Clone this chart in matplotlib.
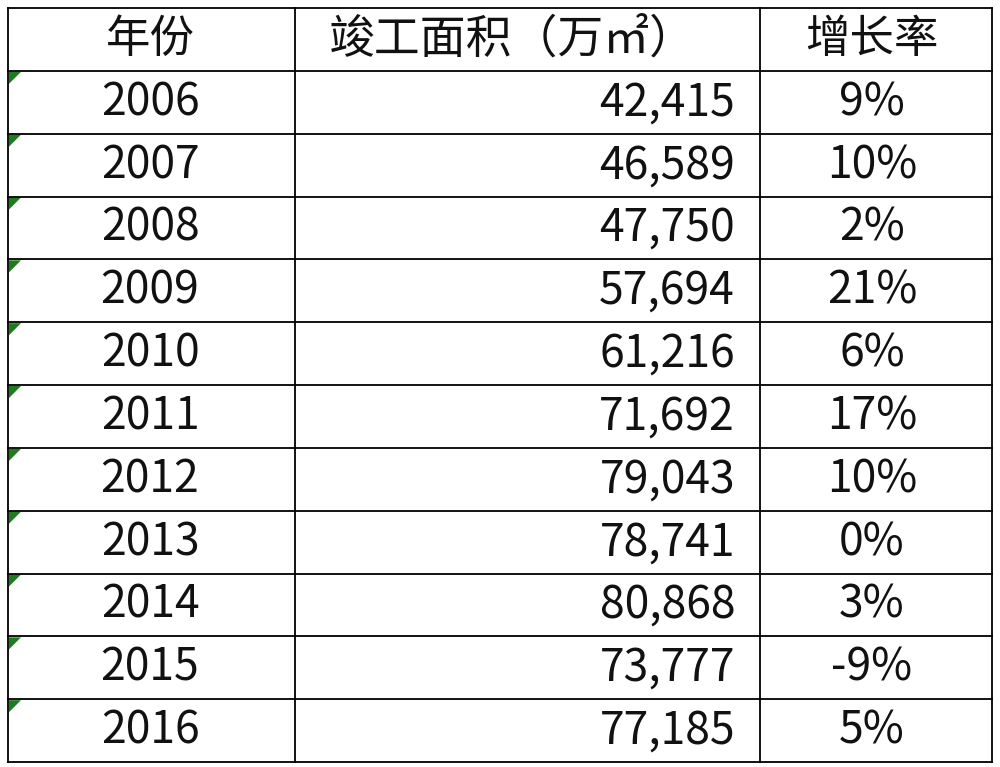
import matplotlib
matplotlib.use('Agg')
import matplotlib.pyplot as plt
from matplotlib.patches import Polygon

plt.rcParams['font.family'] = ['Noto Sans CJK SC', 'DejaVu Sans']

headers = ["年份", "竣工面积（万㎡）", "增长率"]
years = ["2006", "2007", "2008", "2009", "2010", "2011", "2012", "2013", "2014", "2015", "2016"]
areas = [42415, 46589, 47750, 57694, 61216, 71692, 79043, 78741, 80868, 73777, 77185]
growth = [9, 10, 2, 21, 6, 17, 10, 0, 3, -9, 5]

W, H = 1000, 767
fig = plt.figure(figsize=(W / 100, H / 100), dpi=100)
ax = fig.add_axes([0, 0, 1, 1])
ax.set_xlim(0, W)
ax.set_ylim(H, 0)
ax.axis('off')

left, right = 8, 992
col_x = [left, 295, 760, right]
top, bottom = 8, 762
n_rows = len(years) + 1
rh = (bottom - top) / n_rows

# grid
for i in range(n_rows + 1):
    y = top + i * rh
    ax.plot([left, right], [y, y], color='black', lw=1.3)
for x in col_x:
    ax.plot([x, x], [top, bottom], color='black', lw=1.3)

fs = 32
kw = dict(va='center', fontsize=fs, fontweight='light', color='#111111')
cy = top + rh / 2
ax.text(150, cy, headers[0], ha='center', **kw)
ax.text(512, cy, headers[1], ha='center', va='center', fontsize=33,
        fontweight='light', color='#111111')
ax.text(872, cy, headers[2], ha='center', **kw)

for i, (yr, a, g) in enumerate(zip(years, areas, growth)):
    y0 = top + (i + 1) * rh
    yc = y0 + rh / 2
    ax.add_patch(Polygon([[left + 1, y0 + 1], [left + 13, y0 + 1], [left + 1, y0 + 13]],
                         closed=True, color='#1e7b1e', lw=0))
    ax.text(150, yc, yr, ha='center', **kw)
    ax.text(735, yc, f"{a:,}", ha='right', **kw)
    ax.text(872, yc, f"{g}%", ha='center', **kw)

fig.savefig('out.png', dpi=100, facecolor='white')
